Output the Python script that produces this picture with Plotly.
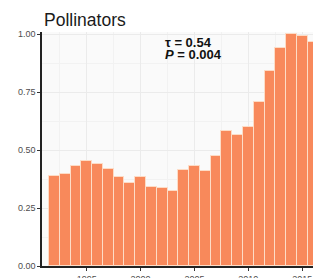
import plotly.graph_objects as go

years = list(range(1992, 2017))
values = [0.39, 0.397, 0.433, 0.452, 0.44, 0.42, 0.385, 0.36, 0.385, 0.34,
          0.338, 0.325, 0.414, 0.433, 0.41, 0.476, 0.584, 0.567, 0.599, 0.707,
          0.841, 0.938, 0.999, 0.99, 0.967]
tick_vals = [1995, 2000, 2005, 2010, 2015]
y_ticks = [0, 0.25, 0.5, 0.75, 1.0]
y_labels = ["0.00", "0.25", "0.50", "0.75", "1.00"]

fig = go.Figure(go.Bar(
    x=years, y=values,
    marker=dict(color="#F8895B", line=dict(color="#FDDCC6", width=1)),
    width=1.0,
))

fig.update_layout(
    width=313, height=278,
    margin=dict(l=42, r=0, t=32, b=12, autoexpand=False),
    paper_bgcolor="white",
    plot_bgcolor="#FAFAFA",
    showlegend=False,
    bargap=0,
    font=dict(family="Liberation Sans, Arial, sans-serif", color="#4D4D4D"),
)
fig.update_xaxes(
    range=[1990.85, 2016.0], automargin=False,
    tickvals=tick_vals, ticktext=[str(v) for v in tick_vals],
    ticks="outside", ticklen=3, tickcolor="#333", tickfont=dict(size=9, color="#4D4D4D"),
    showline=True, linecolor="#222", linewidth=1.5,
    showgrid=True, gridcolor="#EBEBEB", gridwidth=1,
    minor=dict(tickvals=[1992.5, 1997.5, 2002.5, 2007.5, 2012.5], showgrid=True, gridcolor="#F2F2F2", gridwidth=0.5),
    zeroline=False,
)
fig.update_yaxes(
    range=[0, 1.009], automargin=False,
    tickvals=y_ticks, ticktext=y_labels,
    ticks="outside", ticklen=3, tickcolor="#333", tickfont=dict(size=9, color="#4D4D4D"),
    showline=True, linecolor="#222", linewidth=1.5,
    showgrid=True, gridcolor="#EBEBEB", gridwidth=1,
    minor=dict(tickvals=[0.125, 0.375, 0.625, 0.875], showgrid=True, gridcolor="#F2F2F2", gridwidth=0.5),
    zeroline=False,
)
fig.add_annotation(
    text="Pollinators", xref="paper", yref="paper", x=0, y=1, yshift=0,
    xanchor="left", yanchor="bottom", showarrow=False,
    font=dict(size=17.5, color="#1A1A1A"),
)
fig.add_annotation(
    text="<b>τ = 0.54</b>",
    xref="x", yref="paper", x=2002.2, y=0.918, xanchor="left", yanchor="bottom",
    showarrow=False, align="left", borderpad=0,
    font=dict(size=13, color="#111"),
)
fig.add_annotation(
    text="<b><i>P</i> = 0.004</b>",
    xref="x", yref="paper", x=2002.2, y=0.866, xanchor="left", yanchor="bottom",
    showarrow=False, align="left", borderpad=0,
    font=dict(size=13, color="#111"),
)
fig.write_html("out.html", config={"displayModeBar": False},
               post_script="document.body.style.margin='0';document.body.style.overflow='hidden';")
